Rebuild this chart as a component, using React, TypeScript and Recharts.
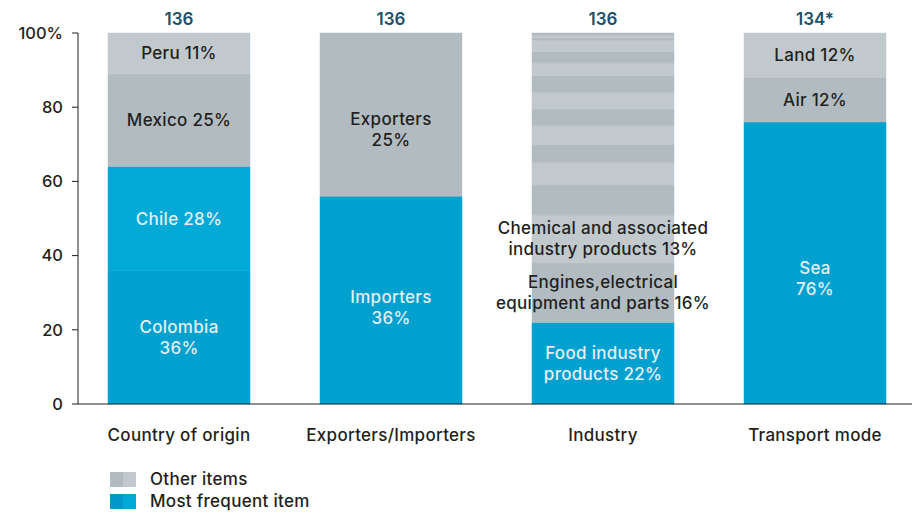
import { Bar, BarChart, Cell, LabelList, XAxis, YAxis } from "recharts";

const categories = ["Country of origin", "Exporters/Importers", "Industry", "Transport mode"];
const sampleSizes = ["136", "136", "136", "134*"];
const yTicks = [0, 20, 40, 60, 80, 100];

// segment shares, bottom to top
const countryShares = [36, 28, 25, 11];
const tradeShares = [56, 44];
const industryShares = [22, 16, 13, 8, 6, 5, 5, 4.5, 4.5, 4.5, 3.5, 3, 3, 0.7, 0.6, 0.7];
const transportShares = [76, 12, 12];

const countryLabels = [["Colombia", "36%"], ["Chile 28%"], ["Mexico 25%"], ["Peru 11%"]];
const tradeLabels = [["Importers", "36%"], ["Exporters", "25%"]];
const industryLabels = [
  ["Food industry", "products 22%"],
  ["Engines,electrical", "equipment and parts 16%"],
  ["Chemical and associated", "industry products 13%"],
];
const transportLabels = [["Sea", "76%"], ["Air 12%"], ["Land 12%"]];

const legendItems = ["Other items", "Most frequent item"];

const shareSets = [countryShares, tradeShares, industryShares, transportShares];
const labelSets: string[][][] = [countryLabels, tradeLabels, industryLabels, transportLabels];
const segCount = Math.max(...shareSets.map((s) => s.length));

const data = categories.map((name, i) => {
  const row: Record<string, string | number> = { name };
  shareSets[i].forEach((v, j) => {
    row[`s${j}`] = v;
  });
  return row;
});

const BLUE = "#00a0cf";
const BLUE_LIGHT = "#00a9d6";
const GREY_DARK = "#b2bcc0";
const GREY_LIGHT = "#c1c9cc";
const TEXT = "#231f20";
const FONT = "Inter, 'Liberation Sans', Arial, sans-serif";
const FS = 17;
const LS = 0.3;

const CHART_W = 919;
const PLOT_LEFT = 78;
const PLOT_RIGHT = 7;
const PAD = { left: -5, right: -9 };
const BAND = (CHART_W - PLOT_LEFT - PLOT_RIGHT - PAD.left - PAD.right) / categories.length;

// label vertical tweaks (px) where the original sits off-centre
const nudge: Record<string, number> = { Exporters: 15, Sea: 15, Importers: 7 };

function fillFor(cat: number, seg: number) {
  if (seg === 0) return BLUE;
  if (cat === 0 && seg === 1) return BLUE_LIGHT;
  const firstGrey = cat === 0 ? 2 : 1;
  return (seg - firstGrey) % 2 === 0 ? GREY_DARK : GREY_LIGHT;
}

function segmentLabel(seg: number) {
  return (props: any) => {
    const { x, y, width, height } = props;
    const cx = Number(x) + Number(width) / 2;
    // LabelList skips empty segments, so find the category from the bar position
    const fromName = categories.indexOf(props.payload?.name);
    const cat = fromName >= 0 ? fromName : Math.floor((cx - (PLOT_LEFT + PAD.left)) / BAND);
    const lines = labelSets[cat]?.[seg];
    if (!lines) return null;
    const onBlue = seg === 0 || (cat === 0 && seg === 1);
    const lh = 21;
    const cy = Number(y) + Number(height) / 2 + (nudge[lines[0]] ?? 0);
    const startY = cy - ((lines.length - 1) * lh) / 2;
    return (
      <text
        x={cx}
        y={startY}
        textAnchor="middle"
        dominantBaseline="central"
        fontSize={FS}
        fontWeight={500}
        letterSpacing={LS}
        fontFamily={FONT}
        fill={onBlue ? "#e4eff3" : TEXT}
      >
        {lines.map((l, k) => (
          <tspan key={k} x={cx} y={startY + k * lh}>
            {l}
          </tspan>
        ))}
      </text>
    );
  };
}

const TopTick = (props: any) => {
  const { x, payload } = props;
  return (
    <text x={x} y={25} textAnchor="middle" fontSize={FS} fontWeight={600} fontFamily={FONT} fill="#1d4f66">
      {sampleSizes[payload.index]}
    </text>
  );
};

export default function App() {
  return (
    <div style={{ position: "absolute", left: 0, top: 0, width: 919, height: 513, background: "#fff", fontFamily: FONT }}>
      <BarChart
        width={CHART_W}
        height={454}
        data={data}
        margin={{ top: 0, right: PLOT_RIGHT, left: 0, bottom: 0 }}
        barSize={142}
      >
        <XAxis
          xAxisId="top"
          orientation="top"
          dataKey="name"
          height={33}
          axisLine={false}
          tickLine={false}
          padding={PAD}
          tick={<TopTick />}
          interval={0}
        />
        <XAxis
          dataKey="name"
          height={50}
          axisLine={{ stroke: "#231f20" }}
          tickLine={false}
          tickSize={0}
          tickMargin={25}
          padding={PAD}
          tick={{ fontSize: FS, fontWeight: 500, fill: TEXT, fontFamily: FONT, letterSpacing: LS }}
          interval={0}
        />
        <YAxis
          width={PLOT_LEFT}
          domain={[0, 100]}
          ticks={yTicks}
          axisLine={{ stroke: "#231f20" }}
          tickLine={{ stroke: "#231f20" }}
          tickSize={6}
          tickMargin={9}
          tick={{ fontSize: 16.5, fontWeight: 500, fill: TEXT, fontFamily: FONT }}
          tickFormatter={(v) => (v === 100 ? "100%" : String(v))}
        />
        {Array.from({ length: segCount }, (_, j) => (
          <Bar key={j} dataKey={`s${j}`} stackId="a" isAnimationActive={false}>
            {data.map((_, i) => (
              <Cell key={i} fill={fillFor(i, j)} stroke={fillFor(i, j)} strokeWidth={0.5} />
            ))}
            <LabelList content={segmentLabel(j)} />
          </Bar>
        ))}
      </BarChart>
      {legendItems.map((item, k) => (
        <div
          key={item}
          style={{ position: "absolute", left: 110, top: 471 + k * 22, display: "flex", alignItems: "center", height: 16 }}
        >
          <span style={{ width: 13, height: 15, background: k === 0 ? GREY_DARK : "#0098c9" }} />
          <span style={{ width: 13, height: 15, background: k === 0 ? GREY_LIGHT : BLUE_LIGHT }} />
          <span style={{ marginLeft: 14, fontSize: FS, fontWeight: 500, letterSpacing: LS, color: TEXT }}>{item}</span>
        </div>
      ))}
    </div>
  );
}
